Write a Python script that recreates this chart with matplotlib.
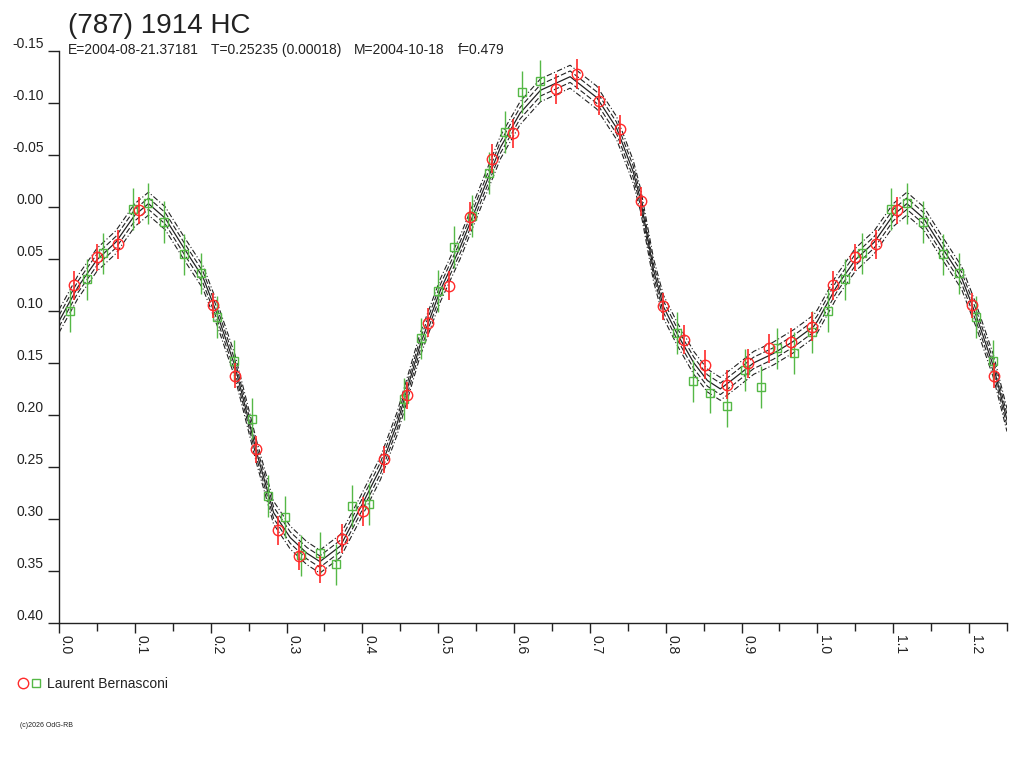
import numpy as np
import matplotlib

matplotlib.use("Agg")
import matplotlib.pyplot as plt  # noqa: E402
from matplotlib.ticker import MultipleLocator, FormatStrFormatter  # noqa: E402

plt.rcParams["font.family"] = ["Liberation Sans", "DejaVu Sans"]
plt.rcParams["axes.unicode_minus"] = False

TITLE = "(787) 1914 HC"
SUBTITLE = [
    "E=2004-08-21.37181",
    "T=0.25235 (0.00018)",
    "M=2004-10-18",
    "f=0.479",
]
OBSERVER = "Laurent Bernasconi"
CREDIT = "(c)2026 OdG-RB"

# fitted light curve (centre line)
curve_phase = [0.000, 0.025, 0.050, 0.075, 0.100, 0.118, 0.140, 0.165, 0.190, 0.210,
               0.232, 0.250, 0.261, 0.283, 0.305, 0.327, 0.344, 0.371, 0.397, 0.424,
               0.446, 0.476, 0.503, 0.529, 0.555, 0.582, 0.608, 0.635, 0.674, 0.709,
               0.735, 0.757, 0.767, 0.784, 0.797, 0.815, 0.837, 0.855, 0.872, 0.890,
               0.916, 0.942, 0.969, 0.995, 1.000]
curve_mag = [0.110, 0.077, 0.051, 0.034, 0.008, -0.003, 0.011, 0.040, 0.068, 0.106,
             0.153, 0.205, 0.237, 0.294, 0.318, 0.333, 0.341, 0.326, 0.290, 0.251,
             0.208, 0.133, 0.080, 0.039, -0.008, -0.057, -0.090, -0.112, -0.125, -0.105,
             -0.076, -0.034, -0.006, 0.061, 0.096, 0.122, 0.150, 0.167, 0.175, 0.165,
             0.150, 0.141, 0.129, 0.115, 0.110]
band_offsets = [0.0055, 0.011]

# session 1 (red circles)
red_phase = [0.0202, 0.0497, 0.0778, 0.1050, 0.2036, 0.2322, 0.2599, 0.2893, 0.3166, 0.3443,
             0.3738, 0.4015, 0.4292, 0.4587, 0.4864, 0.5136, 0.5422, 0.5708, 0.5985, 0.6552,
             0.6830, 0.7124, 0.7392, 0.7674, 0.7964, 0.8245, 0.8522, 0.8808, 0.9090, 0.9367,
             0.9653, 0.9934]
red_mag = [0.0753, 0.0487, 0.0359, 0.0035, 0.0945, 0.1625, 0.2330, 0.3110, 0.3356, 0.3490,
           0.3189, 0.2926, 0.2426, 0.1810, 0.1115, 0.0760, 0.0096, -0.0462, -0.0706, -0.1132,
           -0.1276, -0.1019, -0.0744, -0.0052, 0.0955, 0.1279, 0.1516, 0.1708, 0.1506, 0.1362,
           0.1304, 0.1154]
red_err = [0.014, 0.013, 0.014, 0.013, 0.012, 0.012, 0.013, 0.014, 0.013, 0.013,
           0.014, 0.014, 0.013, 0.013, 0.014, 0.014, 0.014, 0.014, 0.014, 0.014,
           0.014, 0.014, 0.014, 0.014, 0.013, 0.014, 0.014, 0.014, 0.014, 0.014,
           0.014, 0.014]

# session 2 (green squares)
green_phase = [0.0145, 0.0365, 0.0585, 0.0976, 0.1180, 0.1390, 0.1650, 0.1870, 0.2090, 0.2309,
               0.2542, 0.2762, 0.2982, 0.3197, 0.3439, 0.3654, 0.3870, 0.4090, 0.4551, 0.4776,
               0.4996, 0.5211, 0.5445, 0.5664, 0.5884, 0.6104, 0.6337, 0.8149, 0.8364, 0.8588,
               0.8804, 0.9041, 0.9261, 0.9472, 0.9697, 0.9934]
green_mag = [0.1000, 0.0698, 0.0448, 0.0019, -0.0033, 0.0144, 0.0458, 0.0640, 0.1058, 0.1480,
             0.2035, 0.2780, 0.2980, 0.3350, 0.3330, 0.3436, 0.2878, 0.2856, 0.1850, 0.1265,
             0.0808, 0.0385, 0.0087, -0.0327, -0.0721, -0.1103, -0.1212, 0.1212, 0.1676, 0.1785,
             0.1916, 0.1570, 0.1730, 0.1362, 0.1404, 0.1202]
green_err = [0.020] * len(green_phase)

PH_MAX = 1.25
RED, GREEN, INK = "#ff2a2a", "#55b846", "#222222"


def wrap(ph, *cols):
    """repeat the first part of the cycle after phase 1, up to PH_MAX"""
    ph = np.asarray(ph)
    keep = ph + 1.0 <= PH_MAX
    out = [np.concatenate([ph, ph[keep] + 1.0])]
    for c in cols:
        c = np.asarray(c)
        out.append(np.concatenate([c, c[keep]]))
    return out


fig = plt.figure(figsize=(10.24, 7.68), dpi=100, facecolor="white")
ax = fig.add_axes([0.0576, 0.1888, 0.9258, 0.7452])

cp, cm = wrap(curve_phase[:-1], curve_mag[:-1])
order = np.argsort(cp)
cp, cm = cp[order], cm[order]
ax.plot(cp, cm, color=INK, lw=0.9, zorder=2)
for off, ls in zip(band_offsets, [(0, (5, 2)), (0, (5, 2, 1, 2))]):
    ax.plot(cp, cm - off, color=INK, lw=0.8, ls=ls, zorder=2)
    ax.plot(cp, cm + off, color=INK, lw=0.8, ls=ls, zorder=2)

gp, gm, ge = wrap(green_phase, green_mag, green_err)
ax.errorbar(gp, gm, yerr=ge, fmt="none", ecolor=GREEN, elinewidth=1.0, capsize=0, zorder=3)
ax.plot(gp, gm, ls="none", marker="s", ms=5.5, mfc="none", mec=GREEN, mew=1.0, zorder=4)

rp, rm, re = wrap(red_phase, red_mag, red_err)
ax.errorbar(rp, rm, yerr=re, fmt="none", ecolor=RED, elinewidth=1.2, capsize=0, zorder=5)
ax.plot(rp, rm, ls="none", marker="o", ms=7.5, mfc="none", mec=RED, mew=1.0, zorder=6)

ax.set_xlim(0, PH_MAX)
ax.set_ylim(0.40, -0.15)
for s in ("top", "right"):
    ax.spines[s].set_visible(False)
for s in ("left", "bottom"):
    ax.spines[s].set_color(INK)
    ax.spines[s].set_linewidth(1.0)

ax.xaxis.set_major_locator(MultipleLocator(0.1))
ax.xaxis.set_minor_locator(MultipleLocator(0.05))
ax.xaxis.set_major_formatter(FormatStrFormatter("%.1f"))
ax.yaxis.set_major_locator(MultipleLocator(0.05))
ax.yaxis.set_major_formatter(FormatStrFormatter("%.2f"))
ax.tick_params(axis="x", which="major", length=7.5, width=1, color=INK, pad=1,
               labelsize=10, labelcolor=INK, labelrotation=-90)
ax.tick_params(axis="x", which="minor", length=6, width=1, color=INK)
ax.tick_params(axis="y", length=8, width=1, color=INK, pad=3, labelsize=10, labelcolor=INK)
for lab in ax.get_xticklabels():
    lab.set_horizontalalignment("left")
    lab.set_verticalalignment("top")
for lab in ax.get_yticklabels():
    lab.set_verticalalignment("bottom")

fig.text(68 / 1024, 1 - 33 / 768, TITLE, fontsize=20, color=INK, va="baseline")
for xpx, s in zip([68, 211, 354, 458], SUBTITLE):
    fig.text(xpx / 1024, 1 - 54 / 768, s, fontsize=10, color=INK, va="baseline")

fig.lines.append(plt.Line2D([23 / 1024], [1 - 683 / 768], transform=fig.transFigure,
                            marker="o", ms=7.5, mfc="none", mec=RED, mew=1.0, ls="none"))
fig.lines.append(plt.Line2D([36 / 1024], [1 - 683 / 768], transform=fig.transFigure,
                            marker="s", ms=5.5, mfc="none", mec=GREEN, mew=1.0, ls="none"))
fig.text(47 / 1024, 1 - 688 / 768, OBSERVER, fontsize=10, color=INK, va="baseline")
fig.text(20 / 1024, 1 - 727 / 768, CREDIT, fontsize=5, color=INK, va="baseline")

fig.savefig("out.png", dpi=100, facecolor="white")
